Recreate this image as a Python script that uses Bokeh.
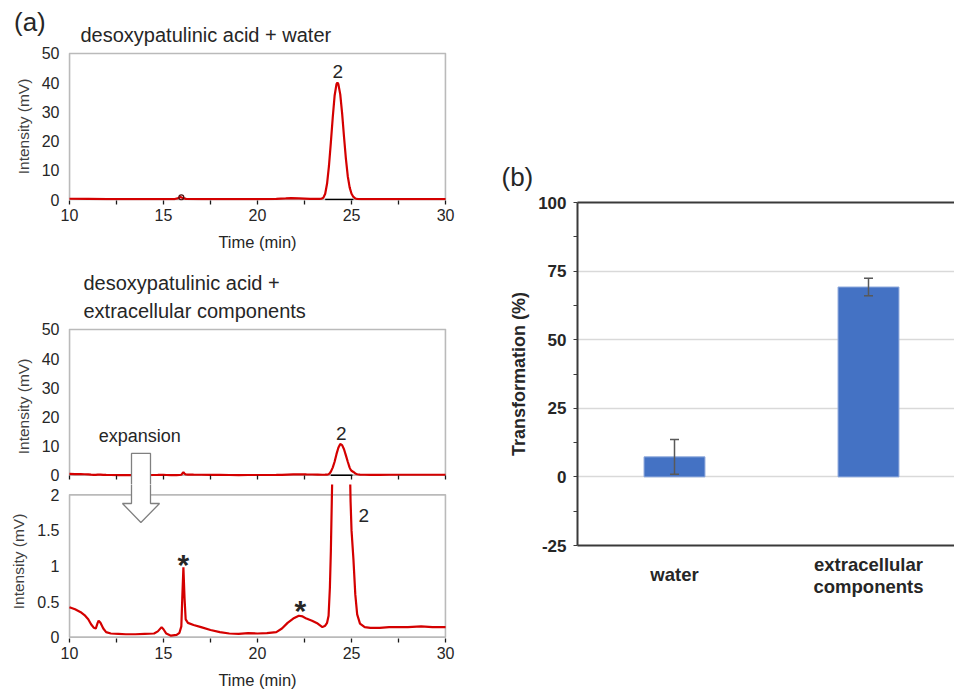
from bokeh.plotting import figure
from bokeh.layouts import row, column
from bokeh.models import (Range1d, FixedTicker, BoxAnnotation, Label, Title, LinearAxis,
                          Whisker, ColumnDataSource, TeeHead, Div)
from bokeh.embed import file_html
from bokeh.resources import INLINE

# ---------------- data ----------------
water_t = [10.0, 11.0, 12.0, 13.0, 14.0, 15.0, 15.6, 15.8, 15.9, 16.0, 16.2, 17.0, 18.0, 19.0, 20.0,
           21.0, 21.5, 21.8, 22.2, 22.8, 23.3, 23.4, 23.5, 23.6, 23.7, 23.8, 23.9, 24.0, 24.1, 24.2,
           24.25, 24.3, 24.4, 24.5, 24.6, 24.7, 24.8, 24.9, 25.0, 25.1, 25.2, 25.3, 25.5, 26.0, 27.0,
           28.0, 29.0, 30.0]
water_mv = [0.3, 0.25, 0.2, 0.2, 0.2, 0.2, 0.2, 0.5, 0.9, 0.6, 0.25, 0.2, 0.2, 0.2, 0.2,
            0.25, 0.4, 0.5, 0.4, 0.25, 0.25, 0.3, 0.6, 2.0, 5.5, 11.5, 19.5, 28.0, 35.5, 39.5,
            40.0, 39.5, 36.0, 29.5, 21.5, 14.0, 8.0, 4.2, 2.0, 0.9, 0.4, 0.25, 0.2, 0.2, 0.2,
            0.2, 0.2, 0.2]

ext_t = [10.0, 10.3, 10.6, 10.8, 11.0, 11.15, 11.3, 11.4, 11.5, 11.55, 11.65, 11.8, 11.95, 12.2,
         12.6, 13.0, 13.5, 14.0, 14.5, 14.7, 14.9, 15.0, 15.15, 15.4, 15.7, 15.85, 15.95, 16.0,
         16.06, 16.12, 16.18, 16.3, 16.6, 17.0, 17.5, 18.0, 18.5, 19.0, 19.5, 20.0, 20.5, 21.0,
         21.3, 21.6, 21.9, 22.2, 22.4, 22.6, 22.9, 23.2, 23.45, 23.6, 23.7, 23.78, 23.85, 23.9,
         23.95, 24.0, 24.1, 24.2, 24.3, 24.4, 24.5, 24.6, 24.7, 24.8, 24.9, 24.95, 25.0, 25.1,
         25.2, 25.3, 25.45, 25.7, 26.0, 26.5, 27.0, 27.5, 28.0, 28.7, 29.3, 30.0]
ext_mv = [0.42, 0.39, 0.35, 0.31, 0.25, 0.18, 0.13, 0.12, 0.2, 0.23, 0.2, 0.12, 0.07, 0.05,
          0.045, 0.04, 0.04, 0.045, 0.05, 0.08, 0.14, 0.11, 0.05, 0.02, 0.03, 0.06, 0.15, 0.55,
          0.98, 0.55, 0.25, 0.2, 0.17, 0.14, 0.1, 0.07, 0.05, 0.045, 0.055, 0.05, 0.055, 0.07,
          0.12, 0.2, 0.26, 0.3, 0.29, 0.26, 0.23, 0.19, 0.14, 0.16, 0.2, 0.3, 0.7, 1.2,
          1.9, 2.6, 4.6, 7.2, 9.4, 10.7, 10.3, 8.9, 6.8, 4.6, 2.6, 1.9, 1.5, 1.1,
          0.6, 0.32, 0.19, 0.14, 0.13, 0.13, 0.14, 0.14, 0.14, 0.15, 0.14, 0.14]

water_base = [23.6, 25.1]      # integration baseline of peak 2 (water)
ext_base = [23.9, 25.05]       # integration baseline of peak 2 (extracellular)

time_ticks = [10, 15, 20, 25, 30]
time_minor = [12.5, 17.5, 22.5, 27.5]
mv_ticks_main = [0, 10, 20, 30, 40, 50]
mv_ticks_zoom = [0, 0.5, 1, 1.5, 2]

categories = ["water", "extracellular\ncomponents"]
transformation = [7.3, 69.2]
transformation_err = [6.3, 3.2]
pct_ticks = [-25, 0, 25, 50, 75, 100]
pct_minor = [-12.5, 12.5, 37.5, 62.5, 87.5]

# ---------------- style ----------------
FONT = "Liberation Sans"
TXT = "#262626"
RED = "#d40000"
BORDER = "#1a1a1a"
ARROW = "#808080"


def chrom(frame_h, y_rng, top, bottom, yticks):
    p = figure(frame_width=378, frame_height=frame_h, x_range=Range1d(9.95, 30.05),
               y_range=Range1d(*y_rng), output_backend="svg", toolbar_location=None,
               min_border_left=68, min_border_right=32, min_border_top=top,
               min_border_bottom=bottom, background_fill_color="white",
               border_fill_color="white")
    p.outline_line_color = None
    p.grid.visible = False
    xa, ya = p.xaxis[0], p.yaxis[0]
    xa.ticker = FixedTicker(ticks=time_ticks, minor_ticks=time_minor)
    xa.axis_line_color = None
    xa.major_tick_out = 4
    xa.major_tick_in = 0
    xa.minor_tick_out = 4
    xa.minor_tick_in = 0
    xa.major_tick_line_color = BORDER
    xa.minor_tick_line_color = BORDER
    xa.major_tick_line_width = 1.3
    xa.minor_tick_line_width = 1.3
    xa.major_label_text_font = FONT
    xa.major_label_text_font_size = "16px"
    xa.major_label_text_color = TXT
    xa.major_label_standoff = 4
    xa.axis_label_text_font = FONT
    xa.axis_label_text_font_size = "16.5px"
    xa.axis_label_text_font_style = "normal"
    xa.axis_label_text_color = TXT
    xa.axis_label_standoff = 9
    ya.ticker = FixedTicker(ticks=yticks)
    ya.axis_line_color = None
    ya.major_tick_out = 0
    ya.major_tick_in = 0
    ya.minor_tick_line_color = None
    ya.major_label_text_font = FONT
    ya.major_label_text_font_size = "16px"
    ya.major_label_text_color = TXT
    ya.major_label_standoff = 9
    ya.axis_label = "Intensity (mV)"
    ya.axis_label_text_font = FONT
    ya.axis_label_text_font_size = "15.5px"
    ya.axis_label_text_font_style = "normal"
    ya.axis_label_text_color = "#404040"
    ya.axis_label_standoff = 7
    return p


def box(p, top):
    p.add_layout(BoxAnnotation(left=10, right=30, bottom=0, top=top, fill_alpha=0,
                               line_color=BORDER, line_width=1.8, level="underlay"))


def txt(p, x, y, s, size, bold=False):
    p.add_layout(Label(x=x, y=y, text=s, text_font=FONT, text_font_size=size,
                       text_color=TXT, text_align="center", text_baseline="middle",
                       text_font_style="bold" if bold else "normal"))


def title(p, s, standoff, offset):
    p.add_layout(Title(text=s, align="left", offset=offset, text_font=FONT,
                       text_font_size="20px", text_font_style="normal", text_color=TXT,
                       standoff=standoff), "above")


# ---- top panel: water ----
p1 = chrom(148, (-0.3, 50.3), 52, 62, mv_ticks_main)
p1.xaxis.axis_label = "Time (min)"
box(p1, 50)
p1.line(water_base, [0, 0], line_color="black", line_width=1.5)
p1.line(water_t, water_mv, line_color=RED, line_width=2.2)
p1.scatter([15.95], [0.8], size=5, fill_color=None, line_color="#4a1010", line_width=1.2)
txt(p1, 24.27, 43.7, "2", "19px")
title(p1, "desoxypatulinic acid + water", 14, 12)

# ---- middle panel: extracellular ----
p2 = chrom(156, (-3.2, 50.3), 66, 0, mv_ticks_main)
p2.xaxis.major_label_overrides = {t: "" for t in time_ticks}
p2.xaxis.major_label_text_font_size = "0px"
p2.xaxis.major_label_standoff = 0
p2.xaxis.major_tick_in = 9
p2.xaxis.major_tick_out = -5
p2.xaxis.minor_tick_in = 9
p2.xaxis.minor_tick_out = -5
box(p2, 50)
p2.line(ext_base, [0, 0], line_color="black", line_width=1.5)
p2.line(ext_t, ext_mv, line_color=RED, line_width=2.2)
txt(p2, 24.45, 14.2, "2", "19px")
txt(p2, 13.74, 13.4, "expansion", "18px")
# upper part of the expansion arrow (shaft)
p2.patch([13.30, 14.31, 14.31, 13.30], [7.46, 7.46, -5, -5], fill_color="white",
         line_color=None)
p2.line([13.30, 13.30, 14.31, 14.31], [-5, 7.46, 7.46, -5], line_color=ARROW, line_width=1.3)
title(p2, "extracellular components", 14, 15)
title(p2, "desoxypatulinic acid +", -6, 15)

# ---- bottom panel: expansion ----
p3 = chrom(154, (-0.02, 2.145), 0, 50, mv_ticks_zoom)
p3.xaxis.axis_label = "Time (min)"
box(p3, 2)
p3.line(ext_t, ext_mv, line_color=RED, line_width=2.2)
ax = [13.30, 13.30, 12.82, 13.80, 14.79, 14.31, 14.31]
ay = [2.5, 1.878, 1.878, 1.611, 1.878, 1.878, 2.5]
p3.patch(ax, ay, fill_color="white", line_color=None)
p3.line(ax, ay, line_color=ARROW, line_width=1.3)
txt(p3, 16.06, 1.02, "*", "30px", bold=True)
txt(p3, 22.28, 0.38, "*", "30px", bold=True)
txt(p3, 25.65, 1.71, "2", "19px")

label_a = Div(text="(a)", styles={"position": "absolute", "left": "9px", "top": "4px",
                                  "font-family": FONT, "font-size": "26px",
                                  "line-height": "26px", "color": TXT, "z-index": "10"})
left = column(label_a, p1, p2, p3, spacing=0)

# ---- panel (b): bar chart ----
xpos = [i + 0.5 for i in range(len(categories))]
pb = figure(frame_width=377, frame_height=343, x_range=Range1d(0, 377 / 194),
            y_range=Range1d(-25, 100), output_backend="svg", toolbar_location=None,
            min_border_left=99, min_border_right=0, min_border_top=202, min_border_bottom=143,
            background_fill_color="white", border_fill_color="white")
pb.outline_line_color = None
pb.xgrid.visible = False
pb.ygrid.ticker = FixedTicker(ticks=[0, 25, 50, 75])
pb.ygrid.grid_line_color = "#d9d9d9"
pb.ygrid.grid_line_width = 1.5
pb.vbar(x=xpos, top=transformation, bottom=0, width=0.314, fill_color="#4472c4",
        line_color="#8faadc", line_width=1)
src = ColumnDataSource(dict(x=xpos,
                            upper=[v + e for v, e in zip(transformation, transformation_err)],
                            lower=[v - e for v, e in zip(transformation, transformation_err)]))
pb.add_layout(Whisker(source=src, base="x", upper="upper", lower="lower", level="annotation",
                      line_color="#595959", line_width=1.5,
                      upper_head=TeeHead(size=9, line_color="#595959", line_width=1.5),
                      lower_head=TeeHead(size=9, line_color="#595959", line_width=1.5)))


def cat_axis(ax, idx, standoff):
    ax.ticker = FixedTicker(ticks=[xpos[i] for i in idx])
    ax.major_label_overrides = {xpos[i]: categories[i] for i in idx}
    ax.major_tick_out = 0
    ax.major_tick_in = 0
    ax.minor_tick_line_color = None
    ax.major_label_text_font = FONT
    ax.major_label_text_font_size = "18.5px"
    ax.major_label_text_font_style = "bold"
    ax.major_label_text_color = TXT
    ax.major_label_text_line_height = 1.05
    ax.major_label_standoff = standoff


# single-line category label (centred like the two-line one)
xb = pb.xaxis[0]
cat_axis(xb, [0], 18)
xb.axis_line_color = "#3a3a3a"
xb.axis_line_width = 2
# two-line category label on a second, line-less axis pulled up next to the first
xb2 = LinearAxis(axis_line_color=None)
cat_axis(xb2, [1], -34)
pb.add_layout(xb2, "below")

yb = pb.yaxis[0]
yb.ticker = FixedTicker(ticks=pct_ticks, minor_ticks=pct_minor)
yb.major_label_overrides = {t: str(t) for t in pct_ticks}
yb.axis_line_color = "#3a3a3a"
yb.axis_line_width = 2
yb.major_tick_out = 4
yb.major_tick_in = 0
yb.minor_tick_out = 4
yb.minor_tick_in = 0
yb.major_tick_line_color = "#3a3a3a"
yb.minor_tick_line_color = "#3a3a3a"
yb.major_label_text_font = FONT
yb.major_label_text_font_size = "17px"
yb.major_label_text_font_style = "bold"
yb.major_label_text_color = TXT
yb.major_label_standoff = 7
yb.axis_label = "Transformation (%)"
yb.axis_label_text_font = FONT
yb.axis_label_text_font_size = "18px"
yb.axis_label_text_font_style = "bold"
yb.axis_label_text_color = TXT
yb.axis_label_standoff = 6
top_ax = LinearAxis(ticker=FixedTicker(ticks=[]), axis_line_color="#3a3a3a",
                    axis_line_width=2, major_tick_out=0, major_tick_in=0,
                    minor_tick_out=0, minor_tick_in=0)
pb.add_layout(top_ax, "above")
pb.add_layout(Title(text="(b)", align="left", offset=-76, text_font=FONT,
                    text_font_size="26px", text_font_style="normal", text_color=TXT,
                    standoff=22), "above")

layout = row(left, pb, spacing=0)
open("out.html", "w").write(file_html(layout, INLINE))
